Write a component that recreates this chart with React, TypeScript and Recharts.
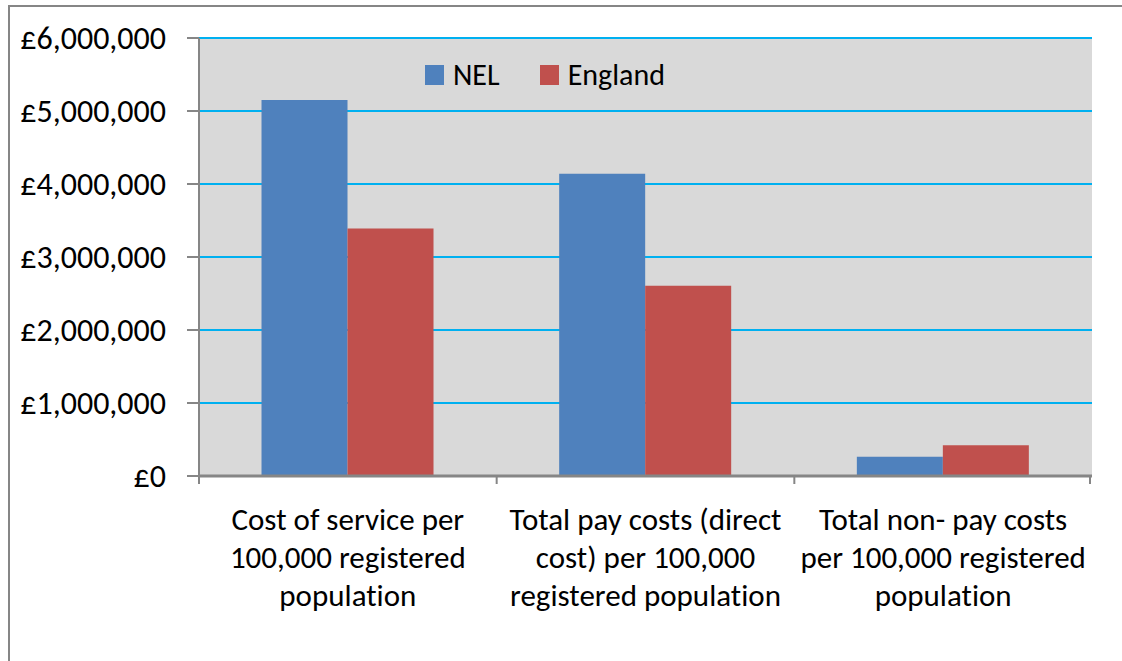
import React from "react";
import {
  Bar,
  BarChart,
  CartesianGrid,
  Legend,
  XAxis,
  YAxis,
} from "recharts";

const categories = [
  ["Cost of service per", "100,000 registered", "population"],
  ["Total pay costs (direct", "cost) per 100,000", "registered population"],
  ["Total non- pay costs", "per 100,000 registered", "population"],
];
const nelValues = [5150000, 4140000, 263000];
const englandValues = [3390000, 2605000, 420000];
const yTicks = [0, 1000000, 2000000, 3000000, 4000000, 5000000, 6000000];

const SERIES = [
  { key: "NEL", color: "#4F81BD" },
  { key: "England", color: "#C0504D" },
];

const data = categories.map((lines, i) => ({
  name: lines.join(" "),
  lines,
  NEL: nelValues[i],
  England: englandValues[i],
}));

const FONT = "Carlito, Calibri, Lato, sans-serif";
const AXIS_GREY = "#868686";

const fmtPound = (v: number) => `£${v.toLocaleString("en-GB")}`;

function CategoryTick(props: any) {
  const { x, y, payload, index } = props;
  const half = payload?.offset ?? 148.8;
  const lines: string[] = data[index]?.lines ?? [String(payload.value)];
  return (
    <g>
      <line x1={x - half} x2={x - half} y1={y - 8} y2={y} stroke={AXIS_GREY} strokeWidth={2} />
      {index === data.length - 1 && (
        <line x1={x + half - 2} x2={x + half - 2} y1={y - 8} y2={y} stroke={AXIS_GREY} strokeWidth={2} />
      )}
      <text
        x={x}
        y={y}
        textAnchor="middle"
        fontFamily={FONT}
        fontSize={31}
        fill="#000"
        style={{ fontVariantLigatures: "none" }}
      >
        {lines.map((l, i) => (
          <tspan key={i} x={x} dy={i === 0 ? 46 : 38}>
            {l}
          </tspan>
        ))}
      </text>
    </g>
  );
}

function LegendBox() {
  return (
    <div style={{ display: "flex", alignItems: "center", fontFamily: FONT, fontSize: 30, color: "#000" }}>
      {SERIES.map((s, i) => (
        <div key={s.key} style={{ display: "flex", alignItems: "center", marginRight: i === 0 ? 40 : 0 }}>
          <span style={{ width: 19, height: 20, background: s.color, display: "inline-block", marginRight: 9 }} />
          <span>{s.key}</span>
        </div>
      ))}
    </div>
  );
}

export default function App() {
  return (
    <div style={{ position: "fixed", left: 0, top: 0, width: 1122, height: 661, background: "#fff", overflow: "hidden" }}>
      <div
        style={{
          position: "absolute",
          left: 8,
          top: 5,
          width: 1200,
          height: 700,
          borderLeft: `2px solid ${AXIS_GREY}`,
          borderTop: `2px solid ${AXIS_GREY}`,
        }}
      />
      <div style={{ position: "absolute", left: 0, top: 0 }}>
        <BarChart
          width={1122}
          height={661}
          data={data}
          margin={{ top: 38, right: 30, bottom: 35, left: 0 }}
          barCategoryGap="21%"
          barGap={0}
        >
          <CartesianGrid
            vertical={false}
            fill="#D9D9D9"
            stroke="#00B0F0"
            strokeWidth={2}
            fillOpacity={1}
          />
          <XAxis
            dataKey="name"
            height={150}
            axisLine={{ stroke: AXIS_GREY, strokeWidth: 3 }}
            tickLine={false}
            tick={<CategoryTick />}
            interval={0}
          />
          <YAxis
            width={199}
            domain={[0, 6000000]}
            ticks={yTicks}
            tickFormatter={fmtPound}
            axisLine={{ stroke: AXIS_GREY, strokeWidth: 2 }}
            tickLine={{ stroke: AXIS_GREY, strokeWidth: 2 }}
            tickSize={12}
            tickMargin={21}
            tick={{ fontFamily: FONT, fontSize: 32, fill: "#000" }}
          />
          <Legend
            content={<LegendBox />}
            verticalAlign="middle"
            wrapperStyle={{ position: "absolute", top: 56, left: 425, width: "auto" }}
          />
          {SERIES.map((s) => (
            <Bar key={s.key} dataKey={s.key} fill={s.color} isAnimationActive={false} />
          ))}
        </BarChart>
      </div>
    </div>
  );
}
